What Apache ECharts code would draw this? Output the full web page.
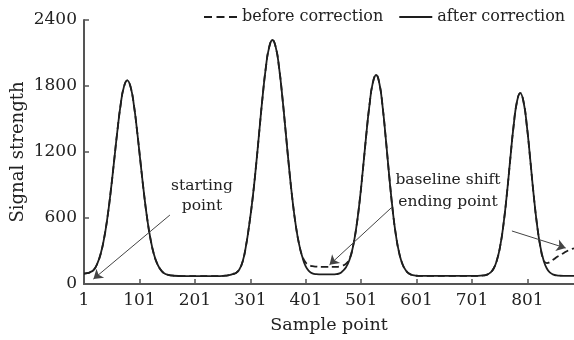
<!DOCTYPE html>
<html>
<head>
<meta charset="utf-8">
<script src="https://cdn.jsdelivr.net/npm/echarts@6/dist/echarts.min.js"></script>
<style>
  html, body { margin: 0; padding: 0; background: #fff; }
  #main { width: 574px; height: 340px; }
</style>
</head>
<body>
<div id="main"></div>
<script>
// sample index (x) shared by both curves
const sampleX = [
  1, 7, 13, 19, 25, 31, 37, 43, 49, 55,
  61, 67, 73, 79, 85, 91, 97, 103, 109, 115,
  121, 127, 133, 139, 145, 151, 163, 180, 210, 240,
  257, 263, 269, 275, 281, 287, 293, 299, 305, 311,
  317, 323, 329, 335, 341, 347, 353, 359, 365, 371,
  377, 383, 389, 395, 401, 407, 413, 420, 430, 440,
  450, 456, 462, 468, 474, 480, 486, 492, 498, 504,
  510, 516, 522, 528, 534, 540, 546, 552, 558, 564,
  570, 576, 582, 588, 594, 606, 630, 660, 690, 710,
  722, 728, 734, 740, 746, 752, 758, 764, 770, 776,
  782, 788, 794, 800, 806, 812, 818, 824, 830, 836,
  842, 848, 854, 860, 866, 872, 878, 885
];
const afterCorrection = [
  95, 98, 110, 131, 186, 273, 408, 595, 832, 1104,
  1382, 1626, 1792, 1852, 1792, 1626, 1382, 1104, 832, 595,
  408, 273, 186, 131, 100, 85, 75, 72, 72, 72,
  76, 80, 90, 100, 130, 200, 340, 536, 770, 1055,
  1375, 1692, 1965, 2151, 2218, 2151, 1965, 1692, 1375, 1055,
  770, 536, 363, 245, 160, 118, 97, 90, 88, 88,
  88, 90, 96, 119, 155, 220, 333, 505, 740, 1032,
  1344, 1626, 1828, 1900, 1820, 1599, 1292, 963, 667, 435,
  274, 175, 121, 93, 80, 74, 73, 73, 73, 74,
  78, 85, 103, 141, 218, 349, 552, 821, 1136, 1435,
  1655, 1736, 1655, 1435, 1136, 821, 552, 349, 218, 141,
  103, 85, 78, 75, 74, 74, 74, 74
];
const beforeCorrection = [
  95, 98, 110, 131, 186, 273, 408, 595, 832, 1104,
  1382, 1626, 1792, 1852, 1792, 1626, 1382, 1104, 832, 595,
  408, 273, 186, 131, 100, 85, 75, 72, 72, 72,
  76, 80, 90, 100, 130, 200, 340, 536, 770, 1055,
  1375, 1692, 1965, 2151, 2218, 2151, 1965, 1692, 1375, 1055,
  770, 536, 363, 250, 195, 172, 162, 158, 156, 155,
  155, 156, 160, 168, 185, 228, 333, 505, 740, 1032,
  1344, 1626, 1828, 1900, 1820, 1599, 1292, 963, 667, 435,
  274, 175, 121, 93, 80, 74, 73, 73, 73, 74,
  78, 85, 103, 141, 218, 349, 552, 821, 1136, 1435,
  1655, 1736, 1655, 1435, 1136, 821, 552, 349, 218, 190,
  200, 222, 245, 262, 280, 298, 312, 325
];
const xTicks = [1, 101, 201, 301, 401, 501, 601, 701, 801];

// arrows: [fromX, fromY, toX, toY] in data units
const arrows = [
  [156, 627, 18, 45],
  [555, 691, 444, 175],
  [773, 482, 870, 327]
];

const serif = '"DejaVu Serif", "Liberation Serif", serif';
const ink = '#1e1e1e';

const zip = ys => sampleX.map((x, i) => [x, ys[i]]);

const chart = echarts.init(document.getElementById('main'));
chart.setOption({
  animation: false,
  textStyle: { fontFamily: serif, color: '#222' },
  grid: { left: 84, right: 0, top: 20, bottom: 56, outerBoundsMode: 'none' },
  legend: {
    left: 199,
    top: 4,
    itemWidth: 33,
    itemHeight: 2,
    itemGap: 16,
    textStyle: { fontFamily: serif, fontSize: 16, color: '#222' },
    data: [
      { name: 'before correction', icon: 'path://M0,0h8v2h-8zM12.5,0h8v2h-8zM25,0h8v2h-8z' },
      { name: 'after correction', icon: 'path://M0,0h33v2h-33z' }
    ]
  },
  xAxis: {
    type: 'value',
    min: 1,
    max: 885,
    name: 'Sample point',
    nameLocation: 'middle',
    nameGap: 32,
    nameMoveOverlap: false,
    nameTextStyle: { fontFamily: serif, fontSize: 17.5, color: '#222' },
    axisLine: { show: true, lineStyle: { color: '#555', width: 2 } },
    axisTick: { show: true, inside: true, length: 5, customValues: xTicks, lineStyle: { color: '#555', width: 1.5 } },
    axisLabel: { customValues: xTicks, fontFamily: serif, fontSize: 17, color: '#222', margin: 8 },
    splitLine: { show: false }
  },
  yAxis: {
    type: 'value',
    min: 0,
    max: 2400,
    interval: 600,
    name: 'Signal strength',
    nameLocation: 'middle',
    nameGap: 57,
    nameMoveOverlap: false,
    nameTextStyle: { fontFamily: serif, fontSize: 18, color: '#222' },
    axisLine: { show: true, lineStyle: { color: '#555', width: 2 } },
    axisTick: { show: true, inside: true, length: 5, lineStyle: { color: '#555', width: 1.5 } },
    axisLabel: { fontFamily: serif, fontSize: 17, color: '#222', margin: 7, formatter: v => String(v) },
    splitLine: { show: false }
  },
  series: [
    {
      name: 'before correction',
      type: 'line',
      data: zip(beforeCorrection),
      smooth: 0.5,
      symbol: 'none',
      lineStyle: { color: ink, width: 1.8, type: [7, 4] },
      itemStyle: { color: ink }
    },
    {
      name: 'after correction',
      type: 'line',
      data: zip(afterCorrection),
      smooth: 0.5,
      symbol: 'none',
      lineStyle: { color: ink, width: 1.8, type: 'solid' },
      itemStyle: { color: ink },
      markLine: {
        silent: true,
        symbol: ['none', 'arrow'],
        symbolSize: 9,
        label: { show: false },
        lineStyle: { color: '#444', width: 1, type: 'solid' },
        data: arrows.map(a => [{ coord: [a[0], a[1]] }, { coord: [a[2], a[3]] }])
      }
    }
  ],
  graphic: [
    {
      type: 'text', x: 202, y: 176,
      style: { text: 'starting\npoint', font: '15.5px ' + serif, fill: '#222', lineHeight: 20, align: 'center' }
    },
    {
      type: 'text', x: 448, y: 169,
      style: { text: 'baseline shift\nending point', font: '15.5px ' + serif, fill: '#222', lineHeight: 22, align: 'center' }
    }
  ]
});
</script>
</body>
</html>
